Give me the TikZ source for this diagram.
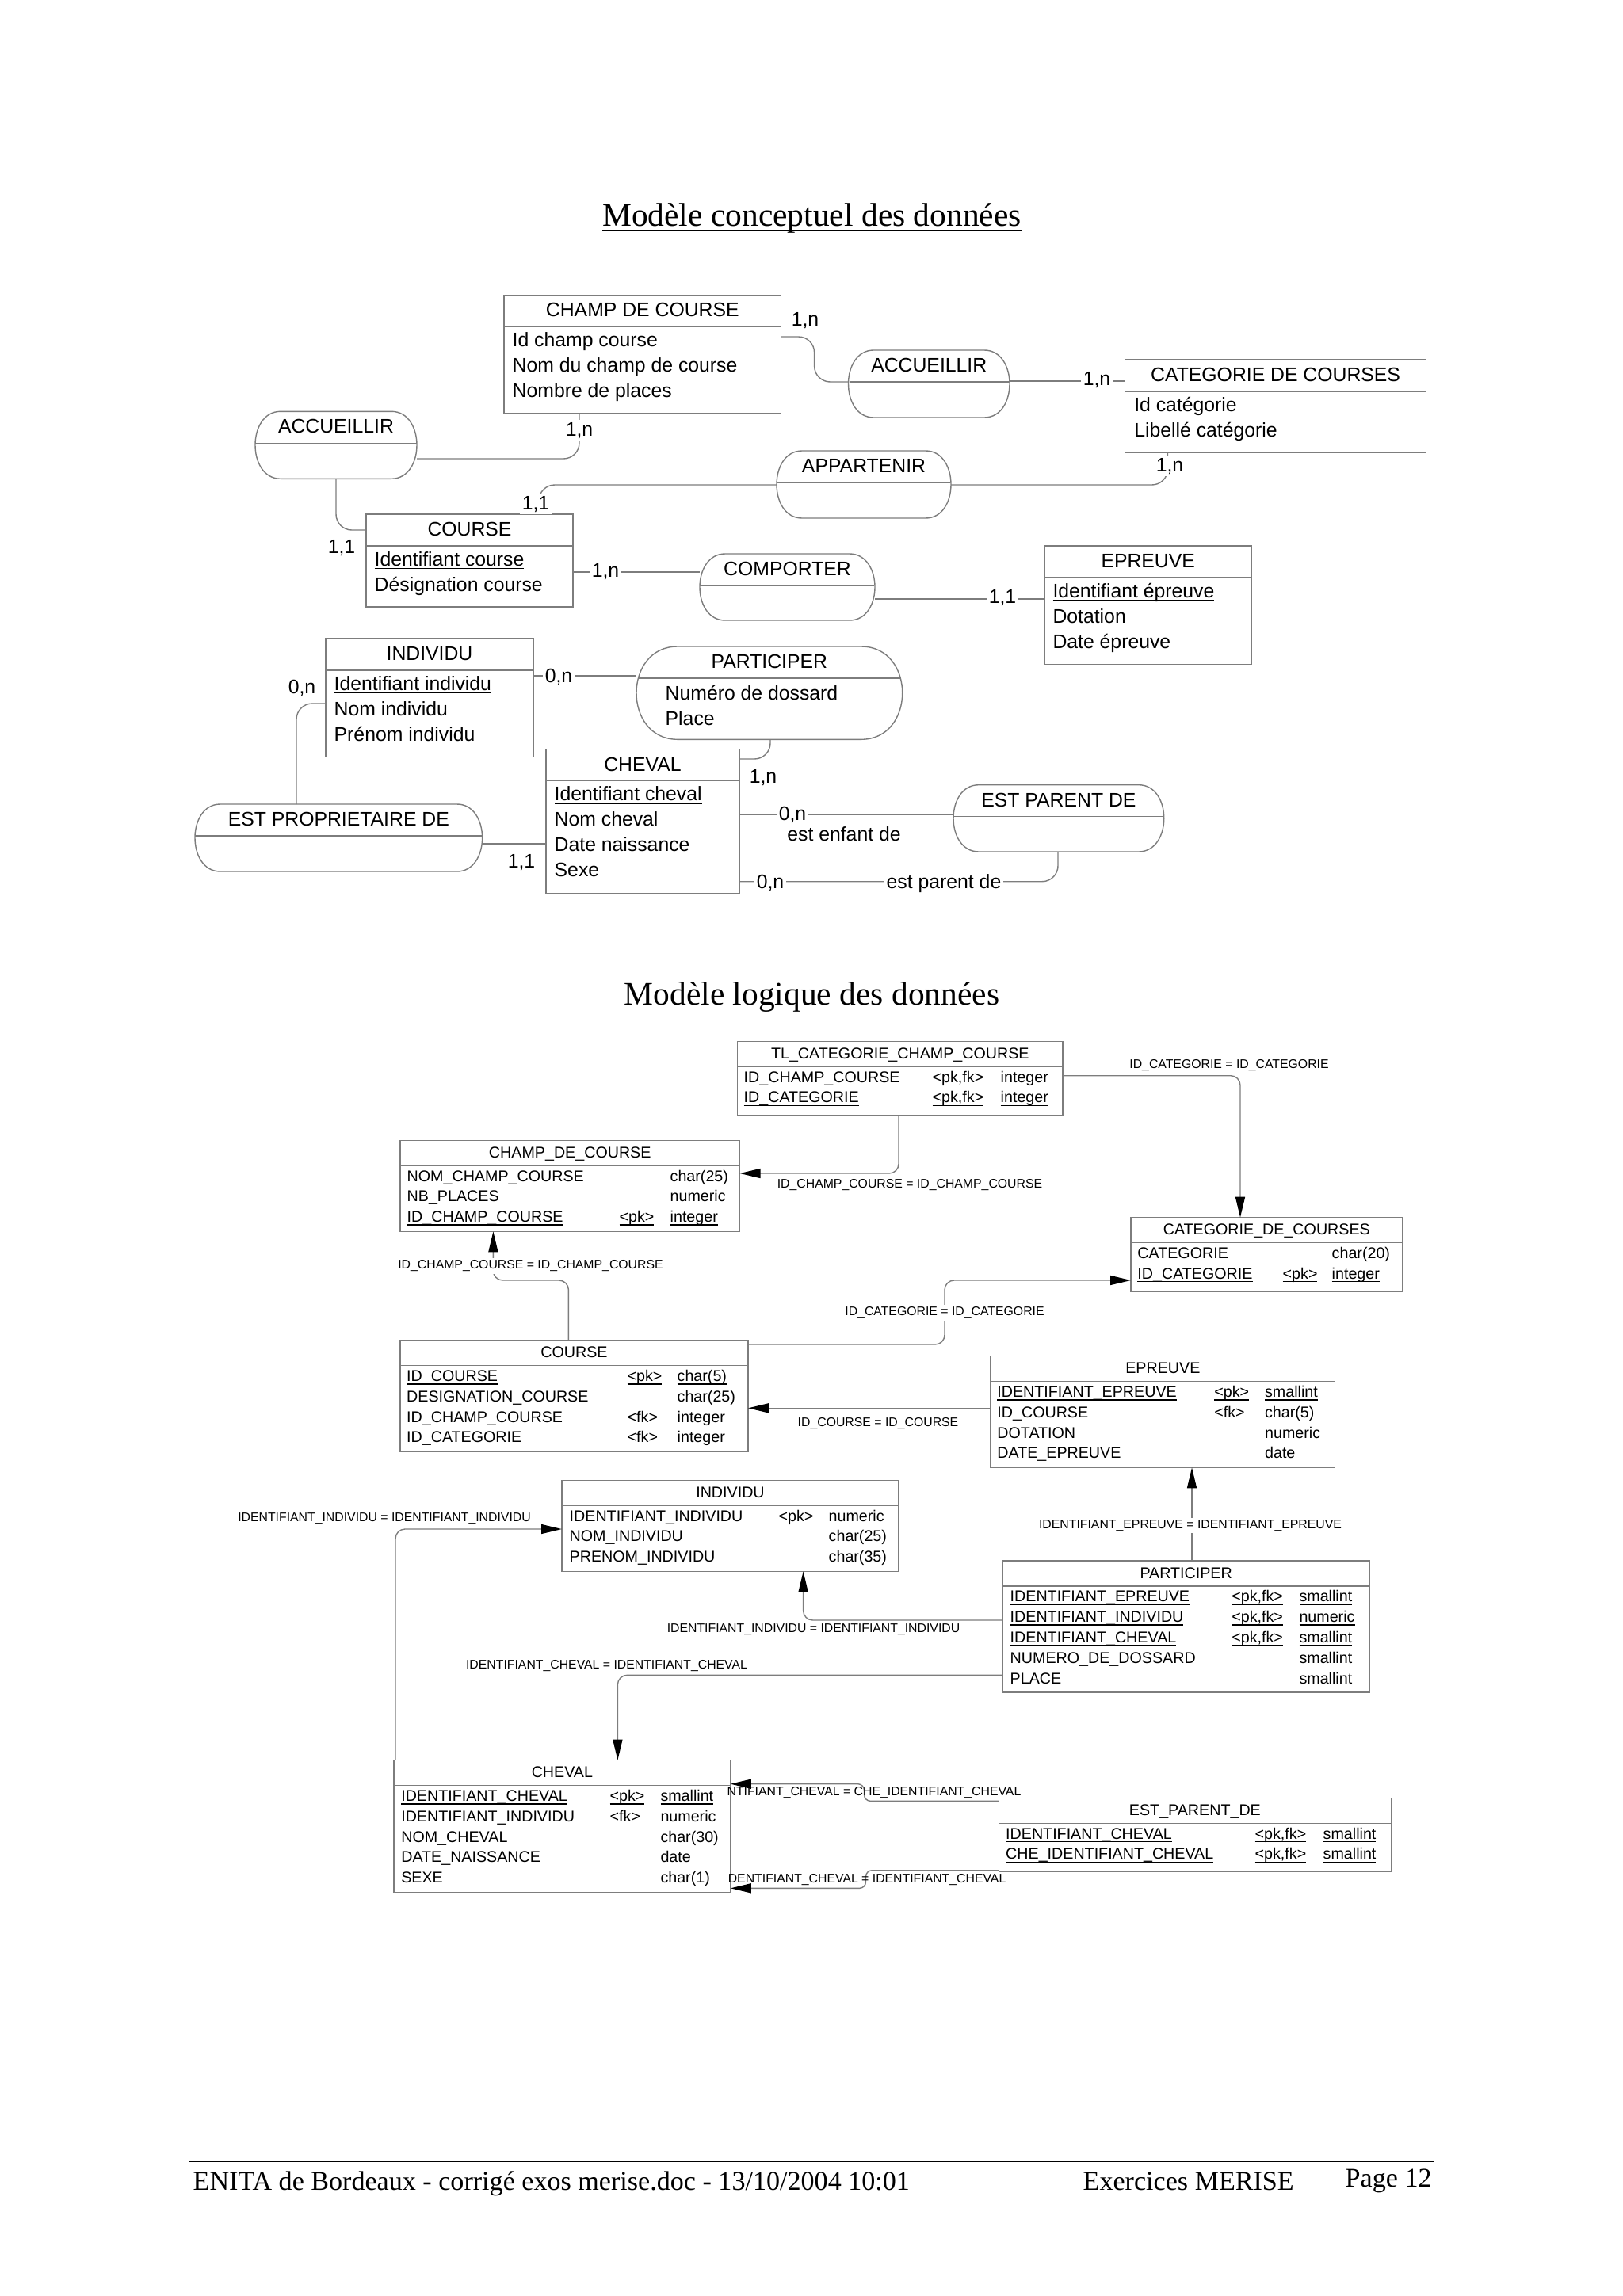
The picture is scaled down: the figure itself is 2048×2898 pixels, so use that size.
\documentclass[tikz,border=0pt]{standalone}
\usepackage{fontspec}
\setmainfont{Liberation Sans}
\newfontfamily\policetitre{Liberation Serif}
\usepackage{xcolor}
\usepackage{tikz}
\usetikzlibrary{arrows.meta}
\definecolor{trait}{RGB}{125,125,125}
\newcommand{\mcd}{\fontsize{7.05}{8.5}\selectfont}
\newcommand{\mld}{\fontsize{5.6}{6.7}\selectfont}
\newcommand{\petit}{\fontsize{4.5}{5.4}\selectfont}
\newsavebox{\boitesoul}
\newcommand{\souligne}[2][0.75pt]{\sbox{\boitesoul}{#2}\rlap{\vrule height -#1 depth \dimexpr #1+0.4pt\relax width \wd\boitesoul}\usebox{\boitesoul}}
\newcommand{\cle}[2]{\ifnum#1=1 \souligne{#2}\else #2\fi}
\tikzstyle{entite} = [rectangle, draw=trait, line width=0.4pt, fill=white, anchor=north west, inner sep=0pt, outer sep=0pt]
\tikzstyle{assoc} = [rectangle, anchor=north west, inner sep=0pt, outer sep=0pt]
\tikzstyle{titre} = [anchor=base, inner sep=0pt, font=\mcd]
\tikzstyle{attribut} = [anchor=base west, inner sep=0pt, font=\mcd]
\tikzstyle{card} = [anchor=base, inner sep=0.8pt, font=\mcd]
\tikzstyle{titretable} = [anchor=base, inner sep=0pt, font=\mld]
\tikzstyle{colonne} = [anchor=base west, inner sep=0pt, font=\mld]
\tikzstyle{jointure} = [anchor=base, inner sep=0.8pt, font=\petit]
\tikzstyle{lien} = [draw=trait, line width=0.4pt, rounded corners=2mm]
\tikzstyle{ref} = [draw=trait, line width=0.4pt, rounded corners=1.2mm, -{Triangle[length=2.6mm,width=1.2mm,color=black]}]
\tikzstyle{page} = [inner sep=0pt, font=\policetitre\fontsize{9.7}{11}\selectfont]

\begin{document}
\begin{tikzpicture}[x=0.1mm, y=-0.1mm]
\fill[white] (0,0) rectangle (2048,2898);
\useasboundingbox (0,0) rectangle (2048,2898);

% titres
\node[page, anchor=base, font=\policetitre\fontsize{11.8}{14}\selectfont] (titre-mcd) at (1024.5,285) {\souligne[1.4pt]{Modèle conceptuel des données}};
\node[page, anchor=base, font=\policetitre\fontsize{11.8}{14}\selectfont] (titre-mld) at (1024.5,1268) {\souligne[1.4pt]{Modèle logique des données}};

% MCD entites
\node[entite, minimum width=34.96mm, minimum height=14.94mm] (champ) at (636,372.3) {};
\node[entite, minimum width=38mm, minimum height=11.77mm] (categ) at (1419.6,454) {};
\node[entite, minimum width=26.1mm, minimum height=11.7mm] (course) at (462,649) {};
\node[entite, minimum width=26.18mm, minimum height=14.93mm] (epreuve) at (1317.8,689) {};
\node[entite, minimum width=26.2mm, minimum height=14.97mm] (individu) at (411,806) {};
\node[entite, minimum width=24.4mm, minimum height=18.16mm] (cheval) at (689,945.7) {};

% MCD associations
\node[assoc, minimum width=20.4mm, minimum height=8.5mm] (accL) at (322,519.3) {};
\node[assoc, minimum width=20.35mm, minimum height=8.5mm] (accR) at (1070.5,442) {};
\node[assoc, minimum width=22mm, minimum height=8.5mm] (appart) at (980,569) {};
\node[assoc, minimum width=22.1mm, minimum height=8.4mm] (comporter) at (883,699) {};
\node[assoc, minimum width=33.57mm, minimum height=11.73mm] (participer) at (803,816) {};
\node[assoc, minimum width=36.26mm, minimum height=8.5mm] (propri) at (246,1015) {};
\node[assoc, minimum width=26.58mm, minimum height=8.43mm] (parent) at (1203,990.7) {};

\foreach \nd/\rx in {accL/32,accR/32,appart/32,comporter/32,participer/52,propri/32,parent/32}
  \draw[trait, line width=0.4pt] ([shift={(\rx,0)}]\nd.north west) -- ([shift={(-\rx,0)}]\nd.north east)
    .. controls ([shift={(\rx/3,0)}]\nd.north east) and ([shift={(\rx/3,0)}]\nd.south east) .. ([shift={(-\rx,0)}]\nd.south east)
    -- ([shift={(\rx,0)}]\nd.south west)
    .. controls ([shift={(-\rx/3,0)}]\nd.south west) and ([shift={(-\rx/3,0)}]\nd.north west) .. cycle;

\foreach \nd/\e in {champ/0,categ/0,course/0,epreuve/0,individu/0,cheval/0,accL/1,accR/1,appart/1,comporter/1,participer/3,propri/1,parent/1}
  \draw[trait, line width=0.4pt] ([shift={(\e,40)}]\nd.north west) -- ([shift={(-\e,40)}]\nd.north east);

\foreach \nd/\txt in {champ/CHAMP DE COURSE, categ/CATEGORIE DE COURSES, course/COURSE, epreuve/EPREUVE, individu/INDIVIDU, cheval/CHEVAL, accL/ACCUEILLIR, accR/ACCUEILLIR, appart/APPARTENIR, comporter/COMPORTER, participer/PARTICIPER, propri/EST PROPRIETAIRE DE, parent/EST PARENT DE}
  \node[titre] (\nd-t) at ([shift={(0,27.5)}]\nd.north) {\txt};

\foreach \attr [count=\i] in {\souligne{Id champ course}, Nom du champ de course, Nombre de places}
  \node[attribut] (champ-a\i) at ([shift={(10,33+32*\i)}]champ.north west) {\attr};
\foreach \attr [count=\i] in {\souligne{Id catégorie}, Libellé catégorie}
  \node[attribut] (categ-a\i) at ([shift={(11,33+32*\i)}]categ.north west) {\attr};
\foreach \attr [count=\i] in {\souligne{Identifiant course}, Désignation course}
  \node[attribut] (course-a\i) at ([shift={(10,33+32*\i)}]course.north west) {\attr};
\foreach \attr [count=\i] in {\souligne{Identifiant épreuve}, Dotation, Date épreuve}
  \node[attribut] (epreuve-a\i) at ([shift={(10,33+32*\i)}]epreuve.north west) {\attr};
\foreach \attr [count=\i] in {\souligne{Identifiant individu}, Nom individu, Prénom individu}
  \node[attribut] (individu-a\i) at ([shift={(10,33+32*\i)}]individu.north west) {\attr};
\foreach \attr [count=\i] in {\souligne{Identifiant cheval}, Nom cheval, Date naissance, Sexe}
  \node[attribut] (cheval-a\i) at ([shift={(10,33+32*\i)}]cheval.north west) {\attr};
\foreach \attr [count=\i] in {Numéro de dossard, Place}
  \node[attribut] (participer-a\i) at ([shift={(36,35+32*\i)}]participer.north west) {\attr};

% MCD liens
\draw[lien] (champ.east |- 0,425) -- ++(42,0) |- (accR.west |- 0,482);
\draw[lien] (accR.east |- 0,481) -- (categ.west |- 0,481);
\draw[lien] (accL.east |- 0,579) -| (champ.south -| 731,0);
\draw[lien] (accL.south) |- (course.west |- 0,669);
\draw[lien] (appart.west |- 0,612) -| (course.north -| 680,0);
\draw[lien] (appart.east |- 0,612) -| (categ.south -| 1473.5,0);
\draw[lien] (course.east |- 0,722) -- (comporter.west |- 0,722);
\draw[lien] (comporter.east |- 0,756) -- (epreuve.west |- 0,756);
\draw[lien] (individu.east |- 0,853) -- (participer.west |- 0,853);
\draw[lien] (individu.west |- 0,888) -| (propri.north -| 374,0);
\draw[lien] (propri.east |- 0,1065) -- (cheval.west |- 0,1065);
\draw[lien] (participer.south -| 972,0) |- (cheval.east |- 0,958);
\draw[lien] (cheval.east |- 0,1028) -- (parent.west |- 0,1028);
\draw[lien] (cheval.east |- 0,1112.7) -| (parent.south -| 1335,0);

\node[card] (c1) at (1016,411) {1,n};
\node[card, fill=white] (c2) at (1384,486) {1,n};
\node[card, fill=white] (c3) at (731,550) {1,n};
\node[card] (c4) at (431,698) {1,1};
\node[card, fill=white] (c5) at (676,643) {1,1};
\node[card, fill=white] (c6) at (1476,595) {1,n};
\node[card, fill=white] (c7) at (764,728) {1,n};
\node[card, fill=white] (c8) at (1265,761) {1,1};
\node[card, fill=white] (c9) at (705,861) {0,n};
\node[card] (c10) at (381,875) {0,n};
\node[card] (c11) at (658,1095) {1,1};
\node[card] (c12) at (963,988) {1,n};
\node[card, fill=white] (c13) at (1000,1035) {0,n};
\node[card] (r13) at (1065,1061) {est enfant de};
\node[card, fill=white] (c14) at (972,1121) {0,n};
\node[card, fill=white] (r14) at (1191,1121) {est parent de};

% MLD tables
\node[entite, minimum width=41.04mm, minimum height=9.3mm] (tl) at (930.6,1314.3) {};
\node[entite, minimum width=42.85mm, minimum height=11.5mm] (champdc) at (505,1439.3) {};
\node[entite, minimum width=34.26mm, minimum height=9.33mm] (categdc) at (1427,1536.7) {};
\node[entite, minimum width=43.9mm, minimum height=14.06mm] (coursel) at (505,1691.7) {};
\node[entite, minimum width=43.47mm, minimum height=14.06mm] (epreuvel) at (1250,1711.7) {};
\node[entite, minimum width=42.5mm, minimum height=11.5mm] (individul) at (709,1868.3) {};
\node[entite, minimum width=46.27mm, minimum height=16.6mm] (participerl) at (1265.3,1970) {};
\node[entite, minimum width=42.48mm, minimum height=16.66mm] (chevall) at (497,2221.7) {};
\node[entite, minimum width=49.48mm, minimum height=9.34mm] (parentl) at (1260.5,2269.3) {};

\foreach \nd/\txt in {tl/TL\_CATEGORIE\_CHAMP\_COURSE, champdc/CHAMP\_DE\_COURSE, categdc/CATEGORIE\_DE\_COURSES, coursel/COURSE, epreuvel/EPREUVE, individul/INDIVIDU, participerl/PARTICIPER, chevall/CHEVAL, parentl/EST\_PARENT\_DE}
{
  \node[titretable] (\nd-t) at ([shift={(0,22)}]\nd.north) {\txt};
  \draw[trait, line width=0.4pt] ([shift={(0,32)}]\nd.north west) -- ([shift={(0,32)}]\nd.north east);
}

\foreach \nom/\clef/\type/\pk [count=\i] in {ID\_CHAMP\_COURSE/{<pk,fk>}/integer/1, ID\_CATEGORIE/{<pk,fk>}/integer/1}
{
  \node[colonne] (tl-n\i) at ([shift={(7.4,26+25.8*\i)}]tl.north west) {\cle{\pk}{\nom}};
  \node[colonne] (tl-k\i) at ([shift={(245.4,26+25.8*\i)}]tl.north west) {\cle{\pk}{\clef}};
  \node[colonne] (tl-t\i) at ([shift={(331.4,26+25.8*\i)}]tl.north west) {\cle{\pk}{\type}};
}
\foreach \nom/\clef/\type/\pk [count=\i] in {NOM\_CHAMP\_COURSE/{}/char(25)/0, NB\_PLACES/{}/numeric/0, ID\_CHAMP\_COURSE/{<pk>}/integer/1}
{
  \node[colonne] (champdc-n\i) at ([shift={(8,26+25.8*\i)}]champdc.north west) {\cle{\pk}{\nom}};
  \node[colonne] (champdc-k\i) at ([shift={(276,26+25.8*\i)}]champdc.north west) {\cle{\pk}{\clef}};
  \node[colonne] (champdc-t\i) at ([shift={(340,26+25.8*\i)}]champdc.north west) {\cle{\pk}{\type}};
}
\foreach \nom/\clef/\type/\pk [count=\i] in {CATEGORIE/{}/char(20)/0, ID\_CATEGORIE/{<pk>}/integer/1}
{
  \node[colonne] (categdc-n\i) at ([shift={(7.7,26+25.8*\i)}]categdc.north west) {\cle{\pk}{\nom}};
  \node[colonne] (categdc-k\i) at ([shift={(191,26+25.8*\i)}]categdc.north west) {\cle{\pk}{\clef}};
  \node[colonne] (categdc-t\i) at ([shift={(253,26+25.8*\i)}]categdc.north west) {\cle{\pk}{\type}};
}
\foreach \nom/\clef/\type/\pk [count=\i] in {ID\_COURSE/{<pk>}/char(5)/1, DESIGNATION\_COURSE/{}/char(25)/0, ID\_CHAMP\_COURSE/{<fk>}/integer/0, ID\_CATEGORIE/{<fk>}/integer/0}
{
  \node[colonne] (coursel-n\i) at ([shift={(7.5,26+25.8*\i)}]coursel.north west) {\cle{\pk}{\nom}};
  \node[colonne] (coursel-k\i) at ([shift={(286,26+25.8*\i)}]coursel.north west) {\cle{\pk}{\clef}};
  \node[colonne] (coursel-t\i) at ([shift={(349,26+25.8*\i)}]coursel.north west) {\cle{\pk}{\type}};
}
\foreach \nom/\clef/\type/\pk [count=\i] in {IDENTIFIANT\_EPREUVE/{<pk>}/smallint/1, ID\_COURSE/{<fk>}/char(5)/0, DOTATION/{}/numeric/0, DATE\_EPREUVE/{}/date/0}
{
  \node[colonne] (epreuvel-n\i) at ([shift={(7.7,26+25.8*\i)}]epreuvel.north west) {\cle{\pk}{\nom}};
  \node[colonne] (epreuvel-k\i) at ([shift={(281.6,26+25.8*\i)}]epreuvel.north west) {\cle{\pk}{\clef}};
  \node[colonne] (epreuvel-t\i) at ([shift={(345.4,26+25.8*\i)}]epreuvel.north west) {\cle{\pk}{\type}};
}
\foreach \nom/\clef/\type/\pk [count=\i] in {IDENTIFIANT\_INDIVIDU/{<pk>}/numeric/1, NOM\_INDIVIDU/{}/char(25)/0, PRENOM\_INDIVIDU/{}/char(35)/0}
{
  \node[colonne] (individul-n\i) at ([shift={(9,26+25.8*\i)}]individul.north west) {\cle{\pk}{\nom}};
  \node[colonne] (individul-k\i) at ([shift={(273,26+25.8*\i)}]individul.north west) {\cle{\pk}{\clef}};
  \node[colonne] (individul-t\i) at ([shift={(336,26+25.8*\i)}]individul.north west) {\cle{\pk}{\type}};
}
\foreach \nom/\clef/\type/\pk [count=\i] in {IDENTIFIANT\_EPREUVE/{<pk,fk>}/smallint/1, IDENTIFIANT\_INDIVIDU/{<pk,fk>}/numeric/1, IDENTIFIANT\_CHEVAL/{<pk,fk>}/smallint/1, NUMERO\_DE\_DOSSARD/{}/smallint/0, PLACE/{}/smallint/0}
{
  \node[colonne] (participerl-n\i) at ([shift={(8.7,26+25.8*\i)}]participerl.north west) {\cle{\pk}{\nom}};
  \node[colonne] (participerl-k\i) at ([shift={(288.3,26+25.8*\i)}]participerl.north west) {\cle{\pk}{\clef}};
  \node[colonne] (participerl-t\i) at ([shift={(373.5,26+25.8*\i)}]participerl.north west) {\cle{\pk}{\type}};
}
\foreach \nom/\clef/\type/\pk [count=\i] in {IDENTIFIANT\_CHEVAL/{<pk>}/smallint/1, IDENTIFIANT\_INDIVIDU/{<fk>}/numeric/0, NOM\_CHEVAL/{}/char(30)/0, DATE\_NAISSANCE/{}/date/0, SEXE/{}/char(1)/0}
{
  \node[colonne] (chevall-n\i) at ([shift={(8.6,26+25.8*\i)}]chevall.north west) {\cle{\pk}{\nom}};
  \node[colonne] (chevall-k\i) at ([shift={(272,26+25.8*\i)}]chevall.north west) {\cle{\pk}{\clef}};
  \node[colonne] (chevall-t\i) at ([shift={(335.8,26+25.8*\i)}]chevall.north west) {\cle{\pk}{\type}};
}
\foreach \nom/\clef/\type/\pk [count=\i] in {IDENTIFIANT\_CHEVAL/{<pk,fk>}/smallint/1, CHE\_IDENTIFIANT\_CHEVAL/{<pk,fk>}/smallint/1}
{
  \node[colonne] (parentl-n\i) at ([shift={(8,26+25.8*\i)}]parentl.north west) {\cle{\pk}{\nom}};
  \node[colonne] (parentl-k\i) at ([shift={(322.5,26+25.8*\i)}]parentl.north west) {\cle{\pk}{\clef}};
  \node[colonne] (parentl-t\i) at ([shift={(408.5,26+25.8*\i)}]parentl.north west) {\cle{\pk}{\type}};
}

% MLD references
\draw[ref] (tl.south -| 1134,0) |- (champdc.east |- 0,1481);
\draw[ref] (tl.east |- 0,1357.7) -| (categdc.north -| 1565,0);
\draw[ref] (coursel.north -| 717.4,0) -- ++(0,-75.7) -| (champdc.south -| 622.4,0);
\draw[ref] (coursel.east |- 0,1697) -- ++(248,0) |- (categdc.west |- 0,1616);
\draw[ref] (epreuvel.west |- 0,1777.3) -- (coursel.east |- 0,1777.3);
\draw[ref] (participerl.north -| 1504,0) -- (epreuvel.south -| 1504,0);
\draw[ref] (participerl.west |- 0,2045) -| (individul.south -| 1013.6,0);
\draw[ref] (participerl.west |- 0,2114.3) -| (chevall.north -| 779.4,0);
\draw[ref] (chevall.north -| 499,0) |- (individul.west |- 0,1930);
\draw[ref, rounded corners=0.8mm] (parentl.west |- 0,2273.3) -- ++(-170,0) |- (chevall.east |- 0,2251.7);
\draw[ref, rounded corners=0.8mm] (parentl.west |- 0,2360.7) -- ++(-168,0) |- (chevall.east |- 0,2383.3);

\node[jointure] (j1) at (1148,1499) {ID\_CHAMP\_COURSE = ID\_CHAMP\_COURSE};
\node[jointure] (j2) at (1551,1348.3) {ID\_CATEGORIE = ID\_CATEGORIE};
\node[jointure, fill=white] (j3) at (669.5,1601.7) {ID\_CHAMP\_COURSE = ID\_CHAMP\_COURSE};
\node[jointure, fill=white] (j4) at (1192,1660.7) {ID\_CATEGORIE = ID\_CATEGORIE};
\node[jointure] (j5) at (1108,1800) {ID\_COURSE = ID\_COURSE};
\node[jointure, fill=white] (j6) at (1502,1929.3) {IDENTIFIANT\_EPREUVE = IDENTIFIANT\_EPREUVE};
\node[jointure] (j7) at (1026.5,2060) {IDENTIFIANT\_INDIVIDU = IDENTIFIANT\_INDIVIDU};
\node[jointure] (j8) at (765.5,2106) {IDENTIFIANT\_CHEVAL = IDENTIFIANT\_CHEVAL};
\node[jointure] (j9) at (485,1920.7) {IDENTIFIANT\_INDIVIDU = IDENTIFIANT\_INDIVIDU};
\node[jointure, anchor=base east, inner sep=0pt] (j10) at (1289,2266.7) {NTIFIANT\_CHEVAL = CHE\_IDENTIFIANT\_CHEVAL};
\node[jointure, anchor=base east, inner sep=0pt] (j11) at (1270,2376.7) {DENTIFIANT\_CHEVAL = IDENTIFIANT\_CHEVAL};

% pied de page
\draw[line width=0.75pt] (238,2728) -- (1810,2728);
\node[page, anchor=base west] (pied-g) at (243,2764) {ENITA de Bordeaux - corrigé exos merise.doc - 13/10/2004 10:01};
\node[page, anchor=base west] (pied-m) at (1366,2764) {Exercices MERISE};
\node[page, anchor=base west] (pied-d) at (1697,2760) {Page 12};

\end{tikzpicture}
\end{document}
